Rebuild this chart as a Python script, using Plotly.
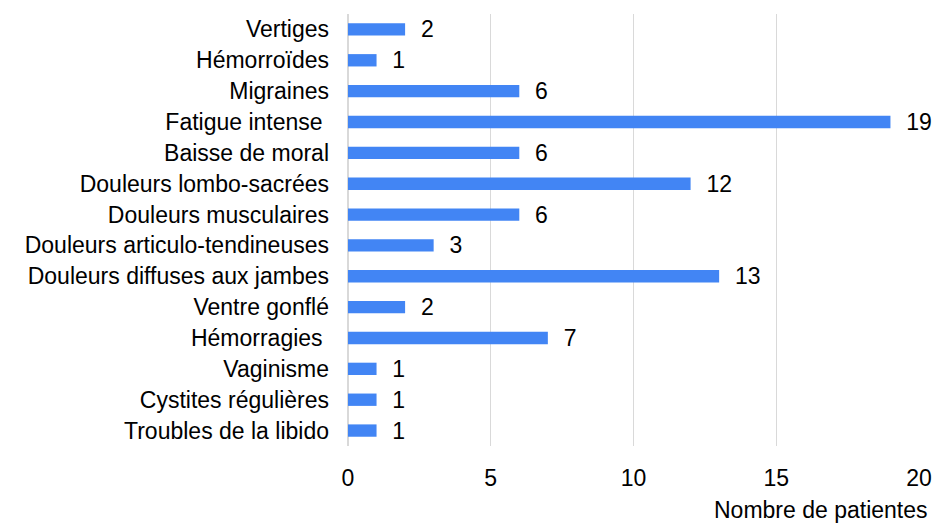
import plotly.graph_objects as go

categories = ["Vertiges", "Hémorroïdes", "Migraines", "Fatigue intense ", "Baisse de moral",
              "Douleurs lombo-sacrées", "Douleurs musculaires", "Douleurs articulo-tendineuses",
              "Douleurs diffuses aux jambes", "Ventre gonflé", "Hémorragies ", "Vaginisme",
              "Cystites régulières", "Troubles de la libido"]
values = [2, 1, 6, 19, 6, 12, 6, 3, 13, 2, 7, 1, 1, 1]
x_ticks = [0, 5, 10, 15, 20]
x_title = "Nombre de patientes"

FONT = "Liberation Sans, Arial, sans-serif"
FS = 23

fig = go.Figure(go.Bar(
    y=categories, x=values, orientation="h",
    marker=dict(color="#4285F4", line=dict(width=0)),
    width=0.4,
    text=["  " + str(v) for v in values],
    textposition="outside",
    constraintext="none",
    textfont=dict(family=FONT, size=FS, color="#000000"),
    cliponaxis=False,
))

fig.update_layout(
    width=935, height=524,
    margin=dict(l=348, r=16, t=14, b=78, autoexpand=False),
    paper_bgcolor="white", plot_bgcolor="white",
    font=dict(family=FONT, size=FS, color="#000000"),
    showlegend=False,
    xaxis=dict(range=[0, 20], tickvals=x_ticks, showgrid=True, gridcolor="#d9d9d9",
               gridwidth=1, zeroline=True, zerolinecolor="#d9d9d9", zerolinewidth=2,
               showline=False, ticks="", ticklabelstandoff=16, automargin=False,
               tickfont=dict(family=FONT, size=FS, color="#000000")),
    yaxis=dict(range=[13.5, -0.5], autorange=False, showgrid=False, zeroline=False,
               showline=False, ticks="", ticklabelstandoff=18, automargin=False,
               tickfont=dict(family=FONT, size=FS, color="#000000")),
    annotations=[dict(text=x_title, xref="paper", yref="paper", x=1.019, y=-0.148,
                      xanchor="right", yanchor="middle", showarrow=False,
                      font=dict(family=FONT, size=FS, color="#000000"))],
)

fig.write_html("out.html", config={"displayModeBar": False},
               post_script="document.body.style.margin='0';document.body.style.overflow='hidden';")
